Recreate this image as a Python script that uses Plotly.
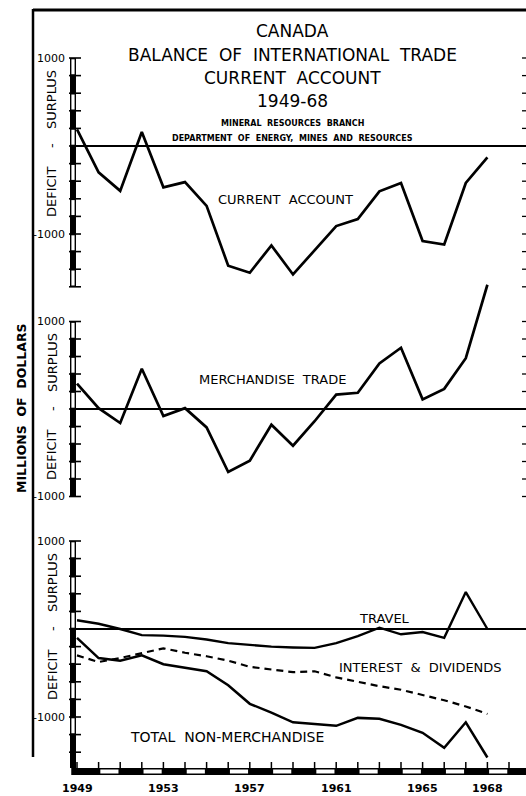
import plotly.graph_objects as go

# ---------------- data ----------------
years = list(range(1949, 1969))
current_account = [190, -300, -510, 160, -470, -410, -680, -1360, -1440, -1130,
                   -1460, -1190, -910, -830, -515, -420, -1080, -1120, -420, -130]
merchandise = [290, 10, -160, 460, -80, 10, -210, -720, -590, -180,
               -420, -140, 165, 185, 520, 700, 110, 230, 580, 1420]
travel = [100, 60, 0, -70, -75, -90, -120, -160, -180, -200,
          -210, -215, -160, -80, 15, -60, -35, -100, 420, 0]
interest_dividends = [-300, -375, -330, -275, -220, -270, -310, -360, -430, -460,
                      -490, -480, -550, -600, -650, -690, -750, -810, -880, -965]
total_non_merch = [-100, -330, -360, -300, -400, -440, -480, -640, -850, -950,
                   -1060, -1080, -1100, -1010, -1020, -1090, -1180, -1350, -1060, -1460]
year_labels = [1949, 1953, 1957, 1961, 1965, 1968]

# ---------------- geometry helpers ----------------
W, H = 526, 796
FONT = "DejaVu Sans"


def px(x):
    return x / W


def py(y):
    return 1 - y / H


# per panel: zero pixel, px per unit, domain top/bottom pixels, axis bottom value
panels = [
    dict(ax="y", z=146, s=0.088, top=10, bot=300, vmin=-1600),
    dict(ax="y2", z=409, s=0.0875, top=270, bot=530, vmin=-1000),
    dict(ax="y3", z=629, s=0.088, top=530, bot=796, vmin=-1580),
]

# x mapping: 1949 at pixel 77, 21.6 px per year, plot area from 72 to 526
x_left_px, x_right_px, x1949, xstep = 72, 526, 77.0, 21.6
xr0 = 1949 - (x1949 - x_left_px) / xstep
xr1 = xr0 + (x_right_px - x_left_px) / xstep

fig = go.Figure()

line_style = dict(color="black", width=2.7)
fig.add_trace(go.Scatter(x=years, y=current_account, mode="lines", line=line_style,
                         xaxis="x", yaxis="y", hoverinfo="skip"))
fig.add_trace(go.Scatter(x=years, y=merchandise, mode="lines", line=line_style,
                         xaxis="x", yaxis="y2", hoverinfo="skip"))
fig.add_trace(go.Scatter(x=years, y=travel, mode="lines", line=dict(color="black", width=2.4),
                         xaxis="x", yaxis="y3", hoverinfo="skip"))
fig.add_trace(go.Scatter(x=years, y=interest_dividends, mode="lines",
                         line=dict(color="black", width=2.2, dash="7px,5px"),
                         xaxis="x", yaxis="y3", hoverinfo="skip"))
fig.add_trace(go.Scatter(x=years, y=total_non_merch, mode="lines", line=dict(color="black", width=2.5),
                         xaxis="x", yaxis="y3", hoverinfo="skip"))

shapes = []
annotations = []

# outer frame lines
shapes.append(dict(type="line", xref="paper", yref="paper", x0=px(33), x1=px(526),
                   y0=py(10), y1=py(10), line=dict(color="black", width=3)))
shapes.append(dict(type="line", xref="paper", yref="paper", x0=px(33), x1=px(33),
                   y0=py(9), y1=py(757), line=dict(color="black", width=2.5)))

layout_axes = {}
for i, p in enumerate(panels):
    name = "yaxis" if i == 0 else "yaxis%d" % (i + 1)
    rng = [(p["z"] - p["bot"]) / p["s"], (p["z"] - p["top"]) / p["s"]]
    layout_axes[name] = dict(domain=[py(p["bot"]), py(p["top"])], range=rng,
                             visible=False, fixedrange=True, anchor="x")
    yr = p["ax"]
    s = p["s"]
    # zero line
    shapes.append(dict(type="line", xref="paper", yref=yr, x0=px(72), x1=1, y0=0, y1=0,
                       line=dict(color="black", width=2.2), layer="below"))
    # axis bar
    shapes.append(dict(type="rect", xref="paper", yref=yr, x0=px(70), x1=px(76),
                       y0=p["vmin"], y1=1000, fillcolor="black", line=dict(width=0)))
    v = 1000
    k = 0
    while v - 200 >= p["vmin"] - 1:
        if k % 2 == 0:
            ins = 1.3 / s
            shapes.append(dict(type="rect", xref="paper", yref=yr, x0=px(71.4), x1=px(74.6),
                               y0=v - 200 + ins, y1=v - ins, fillcolor="white", line=dict(width=0)))
        v -= 200
        k += 1
    # ticks
    v = 1000
    while v >= p["vmin"]:
        shapes.append(dict(type="line", xref="paper", yref=yr, x0=px(69), x1=px(81),
                           y0=v, y1=v, line=dict(color="black", width=1.6)))
        if i < 2:
            shapes.append(dict(type="line", xref="paper", yref=yr, x0=px(522), x1=px(526),
                               y0=v, y1=v, line=dict(color="black", width=1.3)))
        v -= 200
    # value labels
    for val, txt in [(1000, "1000"), (-1000, "-1000")]:
        annotations.append(dict(xref="paper", yref=yr, x=px(67), y=val, text=txt,
                                showarrow=False, xanchor="right", yanchor="middle",
                                font=dict(family=FONT, size=11, color="black")))
    # surplus / deficit
    z = p["z"]
    for yy, txt in [(z - 46, "SURPLUS"), (z, "-"), (z + 46, "DEFICIT")]:
        annotations.append(dict(xref="paper", yref="paper", x=px(52), y=py(yy), text=txt,
                                textangle=-90, showarrow=False, xanchor="center", yanchor="middle",
                                font=dict(family=FONT, size=13, color="black")))

# x axis bar
shapes.append(dict(type="rect", xref="paper", yref="paper", x0=px(72), x1=1,
                   y0=py(775), y1=py(768), fillcolor="black", line=dict(width=0)))
for yv in range(1950, 1970, 2):
    shapes.append(dict(type="rect", xref="x", yref="paper", x0=yv + 0.08, x1=yv + 0.92,
                       y0=py(773.5), y1=py(769.5), fillcolor="white", line=dict(width=0)))
for yv in range(1949, 1971):
    shapes.append(dict(type="line", xref="x", yref="paper", x0=yv, x1=yv,
                       y0=py(762), y1=py(769), line=dict(color="black", width=1.5)))
# thin y line down to x bar
shapes.append(dict(type="line", xref="paper", yref="paper", x0=px(72), x1=px(72),
                   y0=py(760), y1=py(775), line=dict(color="black", width=1.5)))

for yv in year_labels:
    annotations.append(dict(xref="x", yref="paper", x=yv, y=py(788), text="<b>%d</b>" % yv,
                            showarrow=False, xanchor="center", yanchor="middle",
                            font=dict(family=FONT, size=11, color="black")))

# titles
title_lines = [
    ("CANADA", 31, 17, False),
    ("BALANCE  OF  INTERNATIONAL  TRADE", 55, 17, False),
    ("CURRENT  ACCOUNT", 78, 17, False),
    ("1949-68", 101, 17, False),
    ("MINERAL  RESOURCES  BRANCH", 123, 8, True),
    ("DEPARTMENT  OF  ENERGY,  MINES  AND  RESOURCES", 138, 8, True),
]
for txt, yy, sz, bold in title_lines:
    annotations.append(dict(xref="paper", yref="paper", x=px(292), y=py(yy),
                            text=("<b>%s</b>" % txt) if bold else txt,
                            showarrow=False, xanchor="center", yanchor="middle",
                            font=dict(family=FONT, size=sz, color="black")))

# series labels
series_labels = [
    ("CURRENT  ACCOUNT", 285, 200, 13),
    ("MERCHANDISE  TRADE", 272, 380, 13),
    ("TRAVEL", 384, 618, 13),
    ("INTEREST  &  DIVIDENDS", 420, 667, 13),
    ("TOTAL  NON-MERCHANDISE", 227, 737, 14),
]
for txt, xx, yy, sz in series_labels:
    annotations.append(dict(xref="paper", yref="paper", x=px(xx), y=py(yy), text=txt,
                            showarrow=False, xanchor="center", yanchor="middle",
                            font=dict(family=FONT, size=sz, color="black")))

annotations.append(dict(xref="paper", yref="paper", x=px(21), y=py(408),
                        text="<b>MILLIONS  OF  DOLLARS</b>", textangle=-90, showarrow=False,
                        xanchor="center", yanchor="middle",
                        font=dict(family=FONT, size=12.5, color="black")))

fig.update_layout(
    width=W, height=H,
    margin=dict(l=0, r=0, t=0, b=0),
    paper_bgcolor="white", plot_bgcolor="rgba(0,0,0,0)",
    showlegend=False,
    xaxis=dict(domain=[px(x_left_px), 1], range=[xr0, xr1], visible=False,
               fixedrange=True, anchor="y3"),
    shapes=shapes,
    annotations=annotations,
    **layout_axes,
)

fig.write_html(
    "out.html",
    config={"displayModeBar": False},
    post_script="document.body.style.margin='0px';document.body.style.overflow='hidden';",
)
